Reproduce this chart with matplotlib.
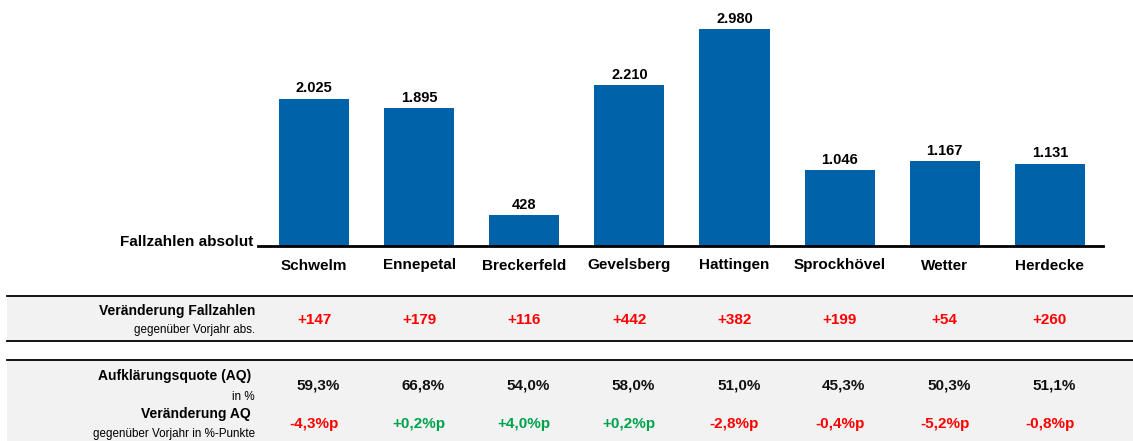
import matplotlib.pyplot as plt
import matplotlib.transforms as mtransforms
from matplotlib.patches import Rectangle

plt.rcParams['font.family'] = ['Liberation Sans', 'DejaVu Sans']

staedte = ['Schwelm', 'Ennepetal', 'Breckerfeld', 'Gevelsberg', 'Hattingen',
           'Sprockhövel', 'Wetter', 'Herdecke']
fallzahlen = [2025, 1895, 428, 2210, 2980, 1046, 1167, 1131]
veraenderung_fz = [147, 179, 116, 442, 382, 199, 54, 260]
aq = [59.3, 66.8, 54.0, 58.0, 51.0, 45.3, 50.3, 51.1]
veraenderung_aq = [-4.3, 0.2, 4.0, 0.2, -2.8, -0.4, -5.2, -0.8]

BLUE = '#0062a9'
RED = '#ff0000'
GREEN = '#00a34c'
W, H = 1133, 441


def de(v, nd=1):
    return f'{v:.{nd}f}'.replace('.', ',')


def fy(py):
    return 1 - py / H


fig = plt.figure(figsize=(W / 100, H / 100), dpi=100)

# bar axes: baseline at y=246 px, from x=258 to x=1103 px
ax = fig.add_axes([258 / W, 1 - 246 / H, (1103 - 258) / W, (246 - 13) / H])
x = list(range(len(staedte)))
ax.bar(x, fallzahlen, width=0.667, color=BLUE, zorder=2)
ax.set_xlim(-0.533, 7.505)
ax.set_ylim(0, 3200)
for s in ['top', 'right', 'left']:
    ax.spines[s].set_visible(False)
ax.spines['bottom'].set_linewidth(2)
ax.set_yticks([])
ax.set_xticks(x)
ax.set_xticklabels(staedte, fontsize=11, fontweight='bold')
ax.tick_params(axis='x', length=0, pad=9)
for xi, v in zip(x, fallzahlen):
    ax.text(xi, v + 45, f'{v:,}'.replace(',', '.'), ha='center', va='bottom',
            fontsize=10.5, fontweight='bold')

fig.text(253 / W, fy(242), 'Fallzahlen absolut', ha='right', va='center',
         fontsize=11, fontweight='bold')

# table rows below the chart
trans = mtransforms.blended_transform_factory(ax.transData, fig.transFigure)

fig.patches.append(Rectangle((7 / W, fy(341)), 1, (341 - 296) / H,
                             transform=fig.transFigure, facecolor='#f2f2f2',
                             edgecolor='none', zorder=-2))
fig.patches.append(Rectangle((7 / W, 0), 1, (441 - 360) / H,
                             transform=fig.transFigure, facecolor='#f2f2f2',
                             edgecolor='none', zorder=-2))
for py in [296, 341, 360]:
    fig.add_artist(plt.Line2D([7 / W, 1], [fy(py), fy(py)], color='black',
                              linewidth=1.3, transform=fig.transFigure,
                              zorder=-1))

fig.text(255 / W, fy(311), 'Veränderung Fallzahlen', ha='right', va='center',
         fontsize=10, fontweight='bold')
fig.text(255 / W, fy(330), 'gegenüber Vorjahr abs.', ha='right', va='center',
         fontsize=8.4)
fig.text(251 / W, fy(376), 'Aufklärungsquote (AQ)', ha='right', va='center',
         fontsize=10, fontweight='bold')
fig.text(255 / W, fy(397), 'in %', ha='right', va='center', fontsize=8.4)
fig.text(251 / W, fy(414), 'Veränderung AQ', ha='right', va='center',
         fontsize=10, fontweight='bold')
fig.text(255 / W, fy(434), 'gegenüber Vorjahr in %-Punkte', ha='right',
         va='center', fontsize=8.4)

for xi, d, q, dq in zip(x, veraenderung_fz, aq, veraenderung_aq):
    fig.text(xi, fy(320), f'{d:+d}', transform=trans, ha='center',
             va='center', fontsize=11, fontweight='bold',
             color=RED if d > 0 else GREEN)
    fig.text(xi + 0.04, fy(385), de(q) + '%', transform=trans, ha='center',
             va='center', fontsize=11, fontweight='bold', color='#111111')
    txt = ('+' if dq > 0 else '-') + de(abs(dq)) + '%p'
    fig.text(xi, fy(424), txt, transform=trans, ha='center', va='center',
             fontsize=11, fontweight='bold', color=GREEN if dq > 0 else RED)

fig.savefig('out.png', dpi=100)
